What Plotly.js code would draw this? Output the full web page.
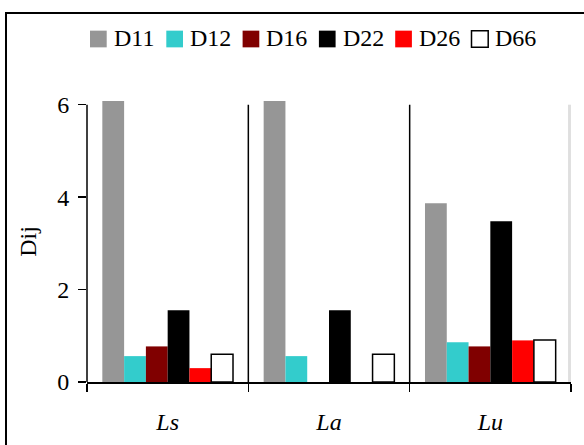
<!DOCTYPE html>
<html>
<head>
<meta charset="utf-8">
<script src="https://cdn.plot.ly/plotly-3.0.1.min.js"></script>
<style>html,body{margin:0;padding:0;background:#fff;}#chart{width:584px;height:445px;}</style>
</head>
<body>
<div id="chart"></div>
<script>
// ---- data ----
const categories = ["Ls", "La", "Lu"];
const seriesNames = ["D11", "D12", "D16", "D22", "D26", "D66"];
const D11 = [6.1, 6.1, 3.87];
const D12 = [0.56, 0.56, 0.86];
const D16 = [0.77, null, 0.77];
const D22 = [1.55, 1.55, 3.48];
const D26 = [0.30, null, 0.90];
const D66 = [0.60, 0.60, 0.91];
const yTicks = [0, 2, 4, 6];

// ---- styles ----
const seriesValues = [D11, D12, D16, D22, D26, D66];
const fills = ["#969696", "#33cccc", "#800000", "#000000", "#ff0000", "#ffffff"];
const outlines = [0, 0, 0, 0, 0, 1.5];
const FONT = "'Liberation Serif', 'Times New Roman', serif";

const W = 584, H = 445;
const M = {l: 87, r: 13, t: 101, b: 63};
const PW = W - M.l - M.r, PH = H - M.t - M.b;
const px = x => (x - M.l) / PW;
const py = y => (H - M.b - y) / PH;

const traces = seriesNames.map((name, i) => ({
  type: "bar",
  name: name,
  x: categories,
  y: seriesValues[i],
  marker: {color: fills[i], line: {color: "#000000", width: outlines[i]}},
  showlegend: false,
  hoverinfo: "x+y+name"
}));

const shapes = [];
const annotations = [];
// outer frame
shapes.push({type: "rect", xref: "paper", yref: "paper",
  x0: px(6), x1: 1.3, y0: -0.6, y1: py(13),
  line: {color: "#000", width: 2}, fillcolor: "rgba(0,0,0,0)", layer: "below"});
// y axis line (0..6)
shapes.push({type: "line", xref: "paper", yref: "y", x0: 0, x1: 0,
  y0: 0, y1: yTicks[yTicks.length - 1], line: {color: "#000", width: 1.5}});
// category separators
for (let k = 0; k < categories.length - 1; k++) {
  shapes.push({type: "line", xref: "x", yref: "y", x0: k + 0.5, x1: k + 0.5,
    y0: 0, y1: yTicks[yTicks.length - 1], line: {color: "#000", width: 1.5}});
}
// light gray double line at right boundary
[-2, 0].forEach(off => shapes.push({type: "line", xref: "x", yref: "y",
  xsizemode: "pixel", xanchor: categories.length - 0.5, x0: off, x1: off,
  y0: 0, y1: yTicks[yTicks.length - 1], line: {color: "#c0c0c0", width: 1}}));

// custom legend
const legX0 = 90, legPitch = 76.3, sq = 16.7, legYc = 39;
seriesNames.forEach((name, i) => {
  const x = legX0 + i * legPitch;
  shapes.push({type: "rect", xref: "paper", yref: "paper",
    x0: px(x), x1: px(x + sq), y0: py(legYc + sq / 2), y1: py(legYc - sq / 2),
    fillcolor: fills[i], line: {color: outlines[i] ? "#000" : fills[i], width: outlines[i] ? 1.5 : 0}});
  annotations.push({xref: "paper", yref: "paper", x: px(x + sq + 5), y: py(legYc - 1),
    xanchor: "left", yanchor: "middle", showarrow: false, text: name,
    font: {family: FONT, size: 24, color: "#000"}});
});

const layout = {
  width: W, height: H,
  margin: M,
  paper_bgcolor: "#fff", plot_bgcolor: "#fff",
  barmode: "group", bargap: 0.19, bargroupgap: 0,
  showlegend: false,
  font: {family: FONT, size: 24, color: "#000"},
  xaxis: {
    type: "category", range: [-0.5, categories.length - 0.5],
    tickson: "boundaries", ticks: "outside", ticklen: 8, tickwidth: 1.5, tickcolor: "#000",
    showline: true, linecolor: "#000", linewidth: 1.5, showgrid: false, zeroline: false,
    tickfont: {family: FONT, size: 24, color: "#000", style: "italic"},
    ticklabelstandoff: 18,
    automargin: false, fixedrange: true
  },
  yaxis: {
    range: [0, 6.08], tickvals: yTicks, ticktext: yTicks.map(String),
    ticks: "outside", ticklen: 8, tickwidth: 1.5, tickcolor: "#000",
    showline: false, showgrid: false, zeroline: false,
    tickfont: {family: FONT, size: 24, color: "#000"},
    ticklabelstandoff: 4,
    title: {text: "Dij", font: {family: FONT, size: 24, color: "#000"}, standoff: 13},
    automargin: false, fixedrange: true
  },
  shapes: shapes,
  annotations: annotations
};

Plotly.newPlot("chart", traces, layout, {displayModeBar: false, staticPlot: true});
</script>
</body>
</html>
